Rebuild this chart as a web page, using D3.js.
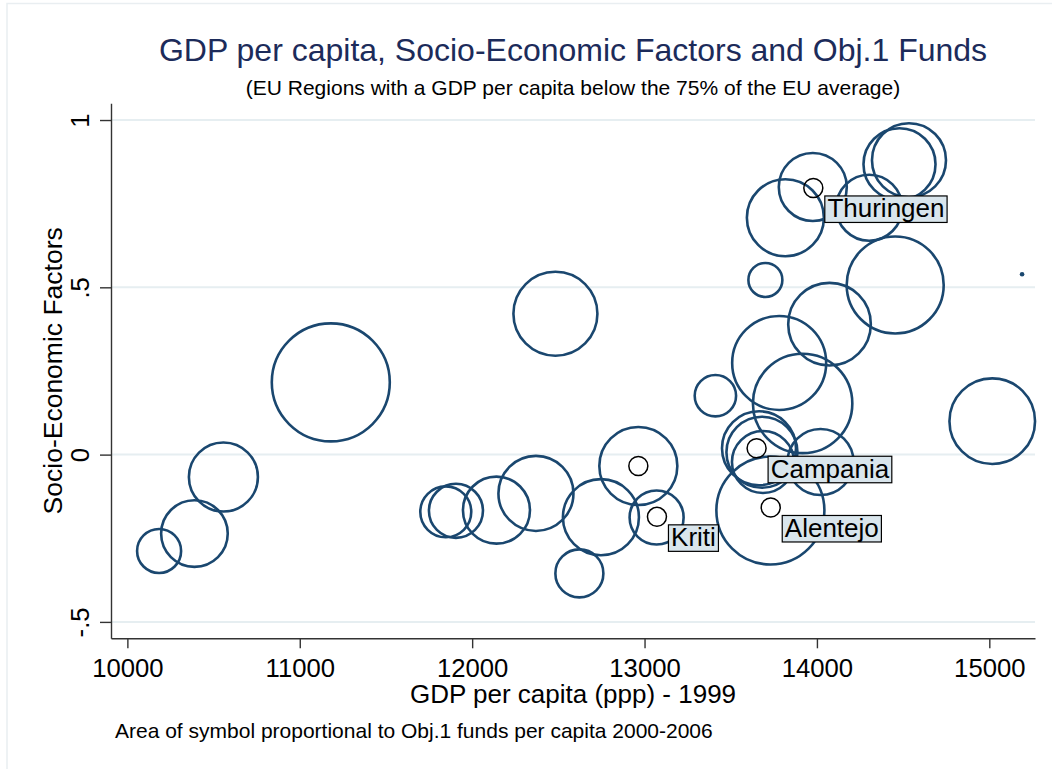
<!DOCTYPE html>
<html>
<head>
<meta charset="utf-8">
<script src="https://cdn.jsdelivr.net/npm/d3@7"></script>
<style>
  body { margin: 0; background: #fff; }
  svg text { font-family: "Liberation Sans", Arial, sans-serif; }
</style>
</head>
<body>
<div id="chart"></div>
<script>
// regions below 75% of EU average: GDP per capita (ppp) 1999, socio-economic factor, Obj.1 funds per capita
let regionGdp    = [10184, 10389, 10557, 11180, 11847, 11906, 12141, 12370, 12483, 12747, 12622, 12964, 13070, 13411,
                    13781, 13917, 14073, 13701, 14454, 13817, 13976, 14303, 14479, 14534, 13664, 13681, 13687, 14021, 13730, 15017, 15190];
let regionFactor = [-0.288, -0.236, -0.067, 0.216, -0.171, -0.168, -0.166, -0.116, 0.421, -0.187, -0.355, -0.034, -0.188, 0.176,
                    0.274, 0.153, 0.390, 0.522, 0.507, 0.708, 0.800, 0.738, 0.868, 0.880, 0.019, 0.007, -0.022, -0.022, -0.167, 0.100, 0.539];
let regionFunds  = [334, 765, 821, 2400, 448, 503, 774, 970, 1216, 996, 397, 1049, 503, 295,
                    1523, 1703, 1176, 199, 1622, 1022, 797, 751, 894, 944, 944, 869, 663, 751, 2011, 1263, 0];

// highlighted regions
let labelNames  = ["Thuringen", "Campania", "Alentejo", "Kriti", ""];
let labelGdp    = [13979, 13650, 13732, 13072, 12964];
let labelFactor = [0.797, 0.019, -0.158, -0.186, -0.034];

let xTicks = [10000, 11000, 12000, 13000, 14000, 15000];
let yTicks = [-0.5, 0, 0.5, 1];
let yTickLabels = ["-.5", "0", ".5", "1"];

let navy = "#1a476f";
let width = 1052, height = 769;
let plot = {left: 111, right: 1035, top: 103.3, bottom: 638.3};

let svg = d3.select("#chart").append("svg")
    .attr("width", width)
    .attr("height", height);

// faint frame of the graph region
svg.append("rect")
    .attr("x", 7).attr("y", 3.5)
    .attr("width", 1100).attr("height", 800)
    .attr("fill", "none")
    .attr("stroke", "#e9eef1")
    .attr("stroke-width", 1.5);

let x = d3.scaleLinear().domain([9905, 15265]).range([plot.left, plot.right]);
let y = d3.scaleLinear().domain([-0.549, 1.05]).range([plot.bottom, plot.top]);
let r = d3.scaleSqrt().domain([0, 2400]).range([0, 59]);

// grid
svg.append("g").selectAll("line")
    .data(yTicks)
    .enter().append("line")
    .attr("x1", plot.left).attr("x2", plot.right)
    .attr("y1", d => y(d)).attr("y2", d => y(d))
    .attr("stroke", "#e6eef1")
    .attr("stroke-width", 2);

// axes
let xAxis = svg.append("g")
    .attr("transform", "translate(0," + plot.bottom + ")")
    .call(d3.axisBottom(x).tickValues(xTicks).tickFormat(d3.format("d")).tickSize(10).tickSizeOuter(0));
xAxis.selectAll("text")
    .attr("y", 38.5).attr("dy", 0)
    .attr("font-size", 25.7).attr("fill", "#000");

let yAxis = svg.append("g")
    .attr("transform", "translate(" + plot.left + ",0)")
    .call(d3.axisLeft(y).tickValues(yTicks).tickFormat((d, i) => yTickLabels[i]).tickSize(11).tickSizeOuter(0));
yAxis.selectAll("text")
    .attr("transform", "rotate(-90)")
    .attr("x", 0).attr("y", -22).attr("dy", 0)
    .attr("text-anchor", "middle")
    .attr("font-size", 25.7).attr("fill", "#000");

svg.selectAll(".domain, .tick line")
    .attr("stroke", "#333")
    .attr("stroke-width", 1.4);

// bubbles
let bubbles = d3.range(regionGdp.length);
svg.append("g").selectAll("circle")
    .data(bubbles)
    .enter().append("circle")
    .attr("cx", i => x(regionGdp[i]))
    .attr("cy", i => y(regionFactor[i]))
    .attr("r", i => Math.max(r(regionFunds[i]), 2.3))
    .attr("fill", i => regionFunds[i] > 0 ? "none" : navy)
    .attr("stroke", navy)
    .attr("stroke-width", i => regionFunds[i] > 0 ? 2.6 : 0);

// highlighted markers + labels
let marks = d3.range(labelNames.length);
svg.append("g").selectAll("circle")
    .data(marks)
    .enter().append("circle")
    .attr("cx", i => x(labelGdp[i]))
    .attr("cy", i => y(labelFactor[i]))
    .attr("r", 9.5)
    .attr("fill", "none")
    .attr("stroke", "#000")
    .attr("stroke-width", 1.5);

let lab = svg.append("g").selectAll("g")
    .data(marks.filter(i => labelNames[i] !== ""))
    .enter().append("g")
    .attr("transform", i => "translate(" + (x(labelGdp[i]) + 11.5) + "," + (y(labelFactor[i]) + 8) + ")");

lab.append("text")
    .attr("x", 2.6).attr("y", 21.5)
    .attr("font-size", 26)
    .attr("fill", "#000")
    .text(i => labelNames[i]);

lab.insert("rect", "text")
    .attr("width", function(i) { return this.parentNode.querySelector("text").getComputedTextLength() + 5.2; })
    .attr("height", 26.5)
    .attr("fill", "#d9e5ec")
    .attr("stroke", "#000")
    .attr("stroke-width", 1.2);

// titles
let midX = (plot.left + plot.right) / 2;
svg.append("text")
    .attr("x", midX).attr("y", 61)
    .attr("text-anchor", "middle")
    .attr("font-size", 32)
    .attr("fill", "#1c2b5a")
    .text("GDP per capita, Socio-Economic Factors and Obj.1 Funds");

svg.append("text")
    .attr("x", midX).attr("y", 95)
    .attr("text-anchor", "middle")
    .attr("font-size", 21)
    .text("(EU Regions with a GDP per capita below the 75% of the EU average)");

svg.append("text")
    .attr("x", midX).attr("y", 703)
    .attr("text-anchor", "middle")
    .attr("font-size", 26)
    .text("GDP per capita (ppp) - 1999");

svg.append("text")
    .attr("transform", "translate(62," + (plot.top + plot.bottom) / 2 + ") rotate(-90)")
    .attr("text-anchor", "middle")
    .attr("font-size", 26.5)
    .text("Socio-Economic Factors");

svg.append("text")
    .attr("x", 115).attr("y", 738)
    .attr("font-size", 21)
    .text("Area of symbol proportional to Obj.1 funds per capita 2000-2006");
</script>
</body>
</html>
